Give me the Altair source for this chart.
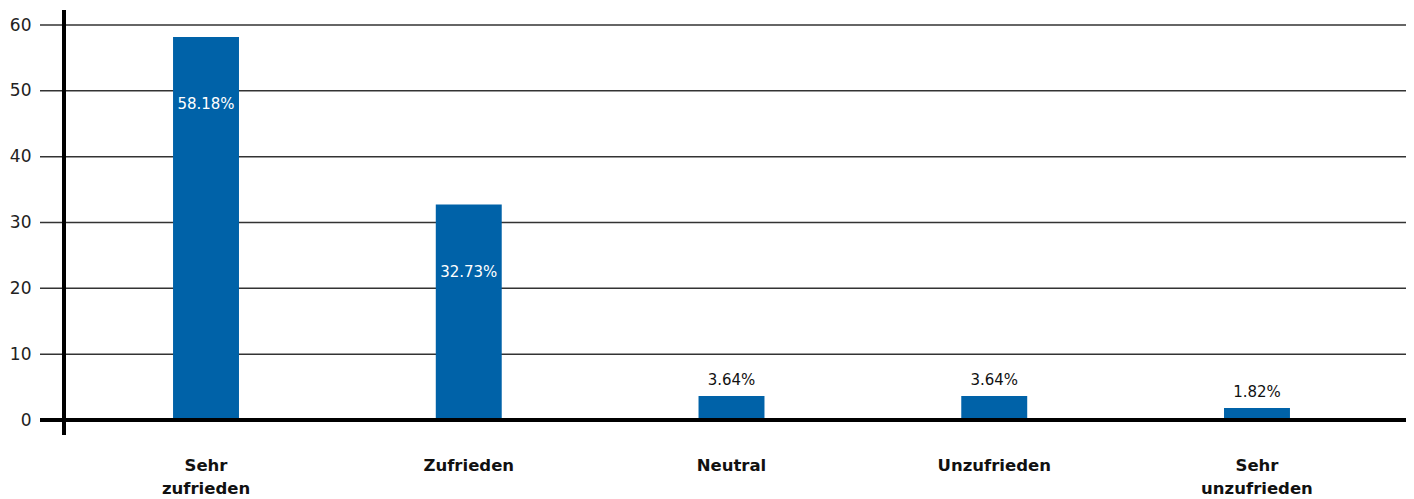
import altair as alt
import pandas as pd

categories = ["Sehr zufrieden", "Zufrieden", "Neutral", "Unzufrieden", "Sehr unzufrieden"]
values = [58.18, 32.73, 3.64, 3.64, 1.82]
y_ticks = [0, 10, 20, 30, 40, 50, 60]

df = pd.DataFrame({"cat": categories, "val": values,
                   "label": [f"{v:.2f}%" for v in values]})
grid_df = pd.DataFrame({"t": y_ticks[1:]})
base_df = pd.DataFrame({"t": [0]})

W, H = 1335, 410
FONT = "DejaVu Sans"
yscale = alt.Scale(domain=[0, 62.28], nice=False, zero=True)
yaxis = alt.Axis(values=y_ticks, title=None)
xscale = alt.Scale(paddingInner=0.749, paddingOuter=0.415)
xenc = alt.X("cat:N", sort=categories, scale=xscale, title=None)

grid = alt.Chart(grid_df).mark_rule(color="#333333", strokeWidth=1.5).encode(
    y=alt.Y("t:Q", scale=yscale, axis=yaxis),
    x=alt.value(-24), x2=alt.value(1342),
)

bars = alt.Chart(df).mark_bar(color="#0062A8").encode(
    x=xenc,
    y=alt.Y("val:Q", scale=yscale, axis=yaxis),
)

big = alt.Chart(df).transform_filter("datum.val > 10").mark_text(
    color="white", fontSize=15, font=FONT, baseline="middle", dy=67
).encode(x=xenc, y=alt.Y("val:Q", scale=yscale, axis=yaxis), text="label:N")

small = alt.Chart(df).transform_filter("datum.val <= 10").mark_text(
    color="#111111", fontSize=15, font=FONT, baseline="middle", dy=-16
).encode(x=xenc, y=alt.Y("val:Q", scale=yscale, axis=yaxis), text="label:N")

baseline = alt.Chart(base_df).mark_rule(color="black", strokeWidth=4).encode(
    y=alt.Y("t:Q", scale=yscale, axis=yaxis),
    x=alt.value(-24), x2=alt.value(1342),
)

yaxis_line = alt.Chart(base_df).mark_rule(color="black", strokeWidth=4).encode(
    x=alt.value(0), y=alt.value(0), y2=alt.value(425),
)

chart = alt.layer(grid, bars, big, small, baseline, yaxis_line).properties(
    width=W, height=H,
    autosize=alt.AutoSizeParams(type="none"),
    padding={"left": 56, "top": 2, "right": 7, "bottom": 76},
).configure_view(stroke=None).configure_axisY(
    grid=False, domain=False, ticks=False, tickSize=0,
    labelPadding=33, labelFontSize=17, labelColor="#222222", labelFont=FONT,
    labelBaseline="middle",
).configure_axisX(
    grid=False, domain=False, ticks=False, tickSize=0, labelAngle=0,
    labelPadding=37, labelFontSize=16.5, labelFontWeight="bold", labelFont=FONT,
    labelColor="#111111", labelLineHeight=23, labelLimit=400,
    labelExpr="split(datum.label, ' ')",
)

chart.save("out.html", embed_options={"renderer": "svg", "actions": False})
